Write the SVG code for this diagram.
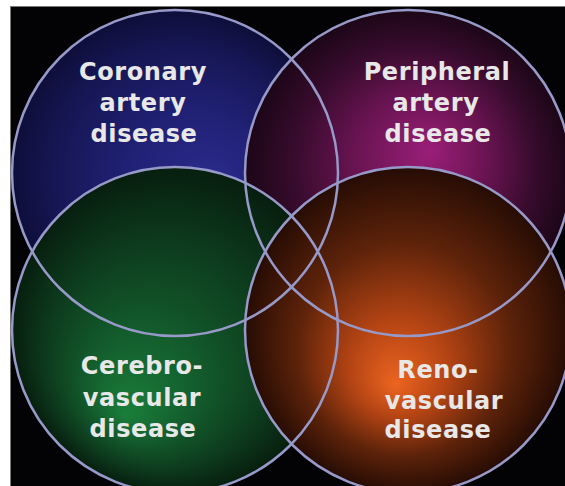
<svg xmlns="http://www.w3.org/2000/svg" width="565" height="486" viewBox="0 0 565 486">
  <style>
    .label { font-family: "DejaVu Sans", "Liberation Sans", sans-serif; font-weight: bold; font-size: 24px; letter-spacing: 0.6px; fill: #e8e8e8; text-anchor: middle; }
    .outline { fill: none; stroke: #9799c9; stroke-width: 2.5; }
  </style>
  <defs>
    <radialGradient id="gBlue" gradientUnits="userSpaceOnUse" cx="175" cy="173" r="163" fx="215" fy="190">
      <stop offset="0" stop-color="#2c2c8e"/>
      <stop offset="0.45" stop-color="#202074"/>
      <stop offset="0.8" stop-color="#161654"/>
      <stop offset="1" stop-color="#0e0e3a"/>
    </radialGradient>
    <radialGradient id="gPurple" gradientUnits="userSpaceOnUse" cx="408" cy="173" r="163" fx="430" fy="150">
      <stop offset="0" stop-color="#9a1e78"/>
      <stop offset="0.4" stop-color="#6a1452"/>
      <stop offset="0.75" stop-color="#360b2c"/>
      <stop offset="1" stop-color="#1c0617"/>
    </radialGradient>
    <radialGradient id="gGreen" gradientUnits="userSpaceOnUse" cx="175" cy="330" r="163" fx="125" fy="415">
      <stop offset="0" stop-color="#1a7e3a"/>
      <stop offset="0.4" stop-color="#12562a"/>
      <stop offset="0.75" stop-color="#0c361b"/>
      <stop offset="1" stop-color="#071e0e"/>
    </radialGradient>
    <radialGradient id="gOrange" gradientUnits="userSpaceOnUse" cx="408" cy="330" r="163" fx="395" fy="385">
      <stop offset="0" stop-color="#ec6420"/>
      <stop offset="0.3" stop-color="#b44414"/>
      <stop offset="0.65" stop-color="#5e230a"/>
      <stop offset="1" stop-color="#260c04"/>
    </radialGradient>
  </defs>
  <rect x="0" y="0" width="565" height="486" fill="#ffffff"/>
  <rect x="10.5" y="6.5" width="560" height="485" fill="#030305" stroke="#777777" stroke-width="1"/>

  <g id="coronary">
    <circle cx="175" cy="173" r="163" fill="url(#gBlue)"/>
    <text class="label"><tspan x="143" y="80">Coronary</tspan><tspan x="143" y="111">artery</tspan><tspan x="144" y="142">disease</tspan></text>
  </g>
  <g id="peripheral">
    <circle cx="408" cy="173" r="163" fill="url(#gPurple)"/>
    <text class="label"><tspan x="437" y="80">Peripheral</tspan><tspan x="436" y="111">artery</tspan><tspan x="438" y="142">disease</tspan></text>
  </g>
  <g id="cerebrovascular">
    <circle cx="175" cy="330" r="163" fill="url(#gGreen)"/>
    <text class="label"><tspan x="142" y="374">Cerebro-</tspan><tspan x="142" y="406">vascular</tspan><tspan x="143" y="437">disease</tspan></text>
  </g>
  <g id="renovascular">
    <circle cx="408" cy="330" r="163" fill="url(#gOrange)"/>
    <text class="label"><tspan x="438" y="378">Reno-</tspan><tspan x="444" y="409">vascular</tspan><tspan x="438" y="438">disease</tspan></text>
  </g>

  <g id="outlines">
    <circle class="outline" cx="175" cy="173" r="163"/>
    <circle class="outline" cx="408" cy="173" r="163"/>
    <circle class="outline" cx="175" cy="330" r="163"/>
    <circle class="outline" cx="408" cy="330" r="163"/>
  </g>
</svg>
